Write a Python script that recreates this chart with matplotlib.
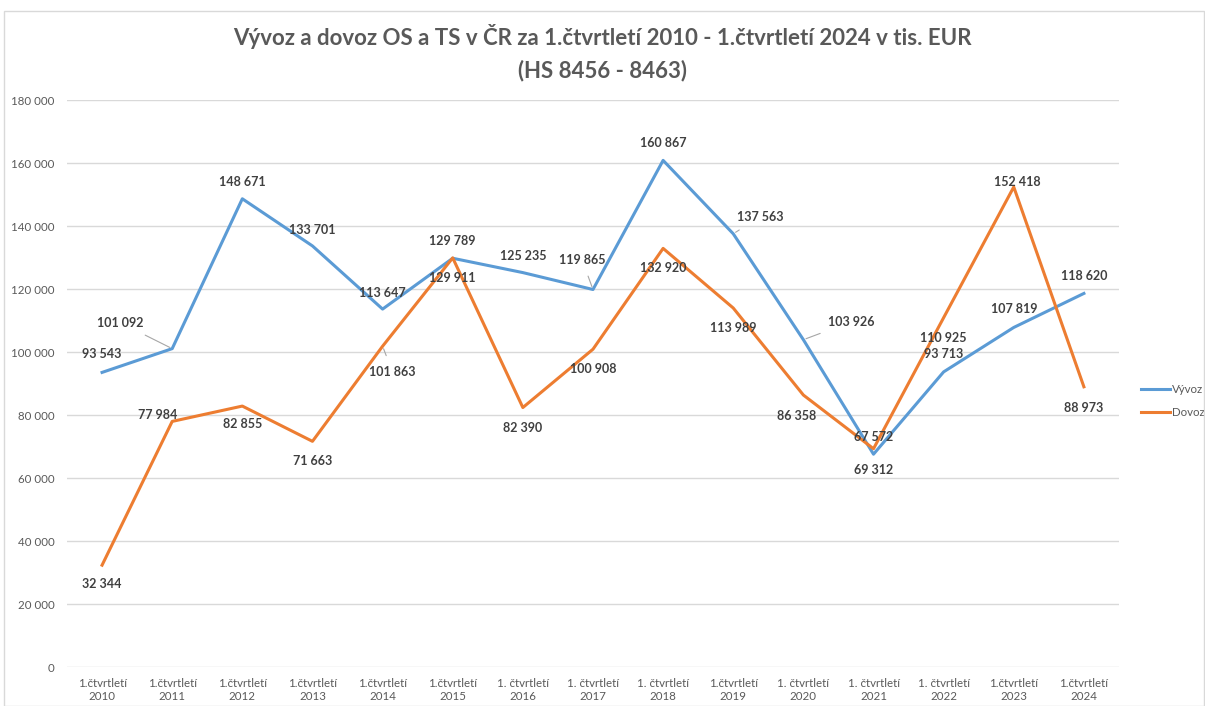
import matplotlib
matplotlib.use("Agg")
import matplotlib.pyplot as plt
from matplotlib.patches import Rectangle
from matplotlib.ticker import FuncFormatter

plt.rcParams['font.family'] = ['Lato', 'DejaVu Sans']

kategorie = ["1.čtvrtletí\n2010", "1.čtvrtletí\n2011", "1.čtvrtletí\n2012", "1.čtvrtletí\n2013",
             "1.čtvrtletí\n2014", "1.čtvrtletí\n2015", "1. čtvrtletí\n2016", "1. čtvrtletí\n2017",
             "1. čtvrtletí\n2018", "1.čtvrtletí\n2019", "1. čtvrtletí\n2020", "1. čtvrtletí\n2021",
             "1. čtvrtletí\n2022", "1.čtvrtletí\n2023", "1.čtvrtletí\n2024"]
vyvoz = [93543, 101092, 148671, 133701, 113647, 129789, 125235, 119865,
         160867, 137563, 103926, 67572, 93713, 107819, 118620]
dovoz = [32344, 77984, 82855, 71663, 101863, 129911, 82390, 100908,
         132920, 113989, 86358, 69312, 110925, 152418, 88973]

# posun popisku v pixelech (dx, dy), True = s vodici carou
off_vyvoz = [(0, 18, False), (-52, 26, True), (0, 17, False), (0, 16, False), (0, 16, False),
             (0, 17, False), (0, 17, False), (-11, 30, True), (0, 17, False), (27, 17, True),
             (48, 18, True), (0, 17, False), (0, 18, False), (0, 18, False), (0, 17, False)]
off_dovoz = [(0, -19, False), (-15, 6, False), (0, -18, False), (0, -20, False), (10, -26, True),
             (0, -20, False), (0, -20, False), (0, -20, False), (0, -20, False), (0, -20, False),
             (-7, -21, False), (0, -21, False), (0, -20, False), (4, 5, False), (0, -21, False)]

modra = '#5B9BD5'
oranz = '#ED7D31'
seda = '#595959'

fig = plt.figure(figsize=(12.05, 7.06), dpi=100)
fig.patches.append(Rectangle((0.003, 0.0), 0.996, 0.985, transform=fig.transFigure,
                             fill=False, edgecolor='#d9d9d9', linewidth=1))
ax = fig.add_axes([0.0556, 0.0552, 0.873, 0.803])

x = range(len(kategorie))
ax.plot(x, vyvoz, color=modra, linewidth=2.2, label='Vývoz', solid_joinstyle='round')
ax.plot(x, dovoz, color=oranz, linewidth=2.2, label='Dovoz', solid_joinstyle='round')

def popisky(hodnoty, posuny):
    for i, (v, (dx, dy, cara)) in enumerate(zip(hodnoty, posuny)):
        txt = f"{v:,}".replace(",", " ")
        kw = {}
        if cara:
            kw['arrowprops'] = dict(arrowstyle='-', color='#a6a6a6', lw=0.8, shrinkA=6, shrinkB=2)
        ax.annotate(txt, (i, v), xytext=(dx, dy), textcoords='offset pixels',
                    ha='center', va='center', fontsize=9, fontweight='bold',
                    color='#404040', **kw)

popisky(vyvoz, off_vyvoz)
popisky(dovoz, off_dovoz)

ax.set_xlim(-0.5, len(kategorie) - 0.5)
ax.set_ylim(0, 180000)
ax.set_yticks(range(0, 180001, 20000))
ax.yaxis.set_major_formatter(FuncFormatter(lambda v, p: f"{int(v):,}".replace(",", " ")))
ax.set_xticks(list(x))
ax.set_xticklabels(kategorie)
ax.tick_params(axis='both', length=0, labelsize=8.3, colors=seda)
ax.tick_params(axis='x', pad=8)
ax.tick_params(axis='y', pad=9)
ax.grid(axis='y', color='#d9d9d9', linewidth=1)
ax.set_axisbelow(True)
for s in ax.spines.values():
    s.set_visible(False)

fig.text(0.5, 0.925, "Vývoz a dovoz OS a TS v ČR za 1.čtvrtletí 2010 - 1.čtvrtletí 2024 v tis. EUR\n(HS 8456 - 8463)",
         ha='center', va='center', fontsize=16, fontweight='bold', color=seda, linespacing=1.6)

ax.legend(loc='center left', bbox_to_anchor=(1.011, 0.469), frameon=False, fontsize=8.3,
          labelcolor=seda, handlelength=2.5, handletextpad=0.2, labelspacing=1.0)

fig.savefig('out.png', dpi=100)
